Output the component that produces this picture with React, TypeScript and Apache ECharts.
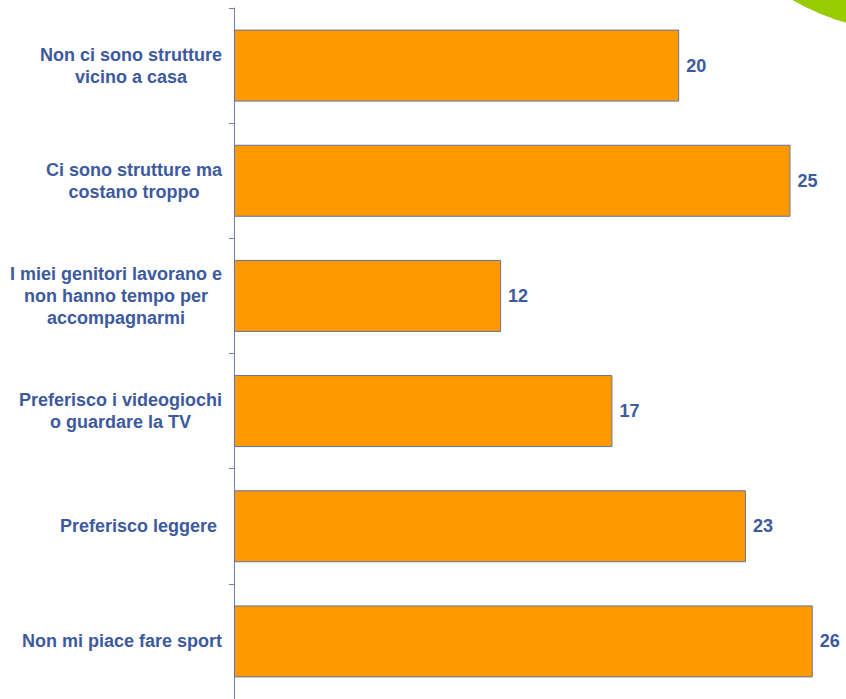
import React, { useEffect, useRef } from "react";
import * as echarts from "echarts";

const categories: string[] = [
  "Non ci sono strutture\nvicino a casa",
  "Ci sono strutture ma\ncostano troppo",
  "I miei genitori lavorano e\nnon hanno tempo per\naccompagnarmi",
  "Preferisco i videogiochi\no guardare la TV",
  "Preferisco leggere ",
  "Non mi piace fare sport",
];
const values: number[] = [20, 25, 12, 17, 23, 26];

const TEXT_COLOR = "#3D5A9E";
const FONT = "'Liberation Sans', Arial, sans-serif";

export default function App() {
  const ref = useRef<HTMLDivElement>(null);
  useEffect(() => {
    if (!ref.current) return;
    const chart = echarts.init(ref.current, undefined, { renderer: "svg" });
    chart.setOption({
      animation: false,
      backgroundColor: "#ffffff",
      graphic: [
        {
          type: "circle",
          shape: { cx: 912, cy: -208, r: 240 },
          style: { fill: "#99CC00" },
          z: 0,
        },
      ],
      grid: { left: 234, top: 8, height: 692, width: 601 },
      xAxis: {
        type: "value",
        min: 0,
        max: 27,
        show: false,
      },
      yAxis: {
        type: "category",
        inverse: true,
        data: categories,
        axisLine: { show: true, lineStyle: { color: "#6F80B0", width: 1 } },
        axisTick: { show: true, inside: false, length: 5, lineStyle: { color: "#6F80B0" } },
        splitLine: { show: false },
        axisLabel: {
          margin: 12,
          align: "right",
          color: TEXT_COLOR,
          fontFamily: FONT,
          fontWeight: "bold",
          fontSize: 18,
          lineHeight: 22,
          formatter: (v: string) =>
            v
              .split("\n")
              .map((l) => `{c|${l}}`)
              .join("\n"),
          rich: {
            c: {
              align: "center",
              color: TEXT_COLOR,
              fontFamily: FONT,
              fontWeight: "bold",
              fontSize: 18,
              lineHeight: 22,
            },
          },
        },
      },
      series: [
        {
          type: "bar",
          data: values,
          barWidth: 72,
          itemStyle: { color: "#FF9900", borderColor: "#5F73A8", borderWidth: 1 },
          label: {
            show: true,
            position: "right",
            distance: 7,
            color: TEXT_COLOR,
            fontFamily: FONT,
            fontWeight: "bold",
            fontSize: 18,
          },
        },
      ],
    });
    return () => chart.dispose();
  }, []);
  return (
    <div
      ref={ref}
      style={{ position: "absolute", left: 0, top: 0, width: 846, height: 699 }}
    />
  );
}
